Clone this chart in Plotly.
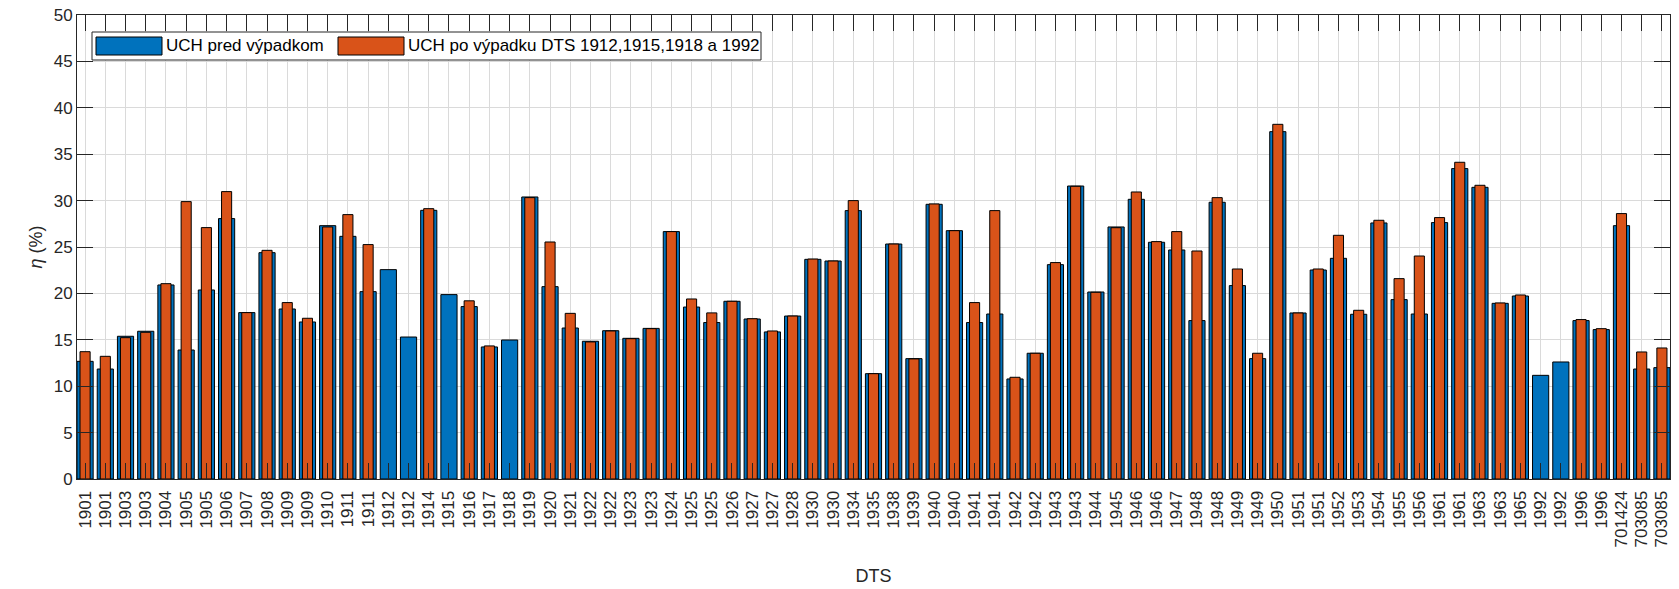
import plotly.graph_objects as go

labels = ["1901","1901","1903","1903","1904","1905","1905","1906","1907","1908",
          "1909","1909","1910","1911","1911","1912","1912","1914","1915","1916",
          "1917","1918","1919","1920","1921","1922","1922","1923","1923","1924",
          "1925","1925","1926","1927","1927","1928","1930","1930","1934","1935",
          "1938","1939","1940","1940","1941","1941","1942","1942","1943","1943",
          "1944","1945","1946","1946","1947","1948","1948","1949","1949","1950",
          "1951","1951","1952","1953","1954","1955","1956","1961","1961","1963",
          "1963","1965","1992","1992","1996","1996","701424","703085","703085"]

uch_pred = [12.68, 11.85, 15.38, 15.92, 20.91, 13.90, 20.37, 28.06, 17.93, 24.39,
            18.32, 16.92, 27.30, 26.15, 20.19, 22.56, 15.30, 28.95, 19.87, 18.58,
            14.23, 14.98, 30.39, 20.73, 16.27, 14.84, 15.98, 15.16, 16.23, 26.66,
            18.53, 16.86, 19.15, 17.24, 15.85, 17.56, 23.67, 23.49, 28.92, 11.35,
            25.32, 12.97, 29.60, 26.76, 16.86, 17.78, 10.78, 13.55, 23.10, 31.57,
            20.15, 27.16, 30.14, 25.51, 24.68, 17.07, 29.82, 20.84, 12.97, 37.43,
            17.89, 22.52, 23.78, 17.75, 27.59, 19.33, 17.78, 27.63, 33.45, 31.43,
            18.93, 19.72, 11.17, 12.61, 17.07, 16.10, 27.30, 11.85, 12.00]

uch_po = [13.72, 13.22, 15.23, 15.81, 21.05, 29.89, 27.09, 30.97, 17.93, 24.64,
          19.01, 17.32, 27.16, 28.49, 25.26, None, None, 29.13, None, 19.20,
          14.34, None, 30.32, 25.54, 17.85, 14.77, 15.95, 15.12, 16.20, 26.66,
          19.40, 17.90, 19.15, 17.27, 15.95, 17.56, 23.70, 23.49, 30.00, 11.35,
          25.32, 12.94, 29.64, 26.76, 19.01, 28.92, 10.96, 13.55, 23.32, 31.54,
          20.12, 27.08, 30.93, 25.58, 26.66, 24.57, 30.32, 22.63, 13.55, 38.22,
          17.89, 22.63, 26.26, 18.18, 27.88, 21.59, 24.03, 28.17, 34.13, 31.65,
          18.97, 19.83, None, None, 17.18, 16.20, 28.60, 13.69, 14.12]

series_names = ["UCH pred výpadkom", "UCH po výpadku DTS 1912,1915,1918 a 1992"]

x = list(range(len(labels)))

BLUE = "#0072BD"
ORANGE = "#D95319"
AX = "#262626"
GRID = "#dadada"
FONT = "Liberation Sans, Arial, Helvetica, sans-serif"

fig = go.Figure()
fig.add_trace(go.Bar(x=x, y=uch_pred, width=0.8, name=series_names[0],
                     marker=dict(color=BLUE, line=dict(color="#000000", width=1))))
fig.add_trace(go.Bar(x=x, y=uch_po, width=0.5, name=series_names[1],
                     marker=dict(color=ORANGE, line=dict(color="#000000", width=1))))

# pixel -> paper coordinate helpers (plot area: x 77..1670, y 15..479)
PX0, PX1, PY0, PY1 = 77.0, 1670.0, 15.0, 479.0
def px(v):
    return (v - PX0) / (PX1 - PX0)
def py(v):
    return (PY1 - v) / (PY1 - PY0)

# legend box with wide swatches (MATLAB style)
shapes = [
    dict(type="rect", xref="paper", yref="paper", x0=px(92), x1=px(761), y0=py(60), y1=py(32),
         fillcolor="white", line=dict(color=AX, width=1), layer="above"),
    dict(type="rect", xref="paper", yref="paper", x0=px(96), x1=px(162), y0=py(55), y1=py(37),
         fillcolor=BLUE, line=dict(color="#000000", width=1), layer="above"),
    dict(type="rect", xref="paper", yref="paper", x0=px(338), x1=px(404), y0=py(55), y1=py(37),
         fillcolor=ORANGE, line=dict(color="#000000", width=1), layer="above"),
]
annotations = [
    dict(xref="paper", yref="paper", x=px(164), y=py(46), xanchor="left", yanchor="middle",
         text=series_names[0], showarrow=False, font=dict(size=17, color="#000000")),
    dict(xref="paper", yref="paper", x=px(406), y=py(46), xanchor="left", yanchor="middle",
         text=series_names[1], showarrow=False, font=dict(size=17, color="#000000")),
]

fig.update_layout(
    width=1679, height=589,
    barmode="overlay",
    plot_bgcolor="white", paper_bgcolor="white",
    margin=dict(l=77, r=9, t=15, b=110, autoexpand=False),
    font=dict(family=FONT, size=17, color=AX),
    showlegend=False,
    hovermode=False,
    shapes=shapes,
    annotations=annotations,
    xaxis=dict(
        range=[-0.4, 78.4], tickmode="array", tickvals=x, ticktext=labels,
        tickangle=-90, showgrid=True, gridcolor=GRID, gridwidth=1,
        ticks="inside", ticklen=16, tickcolor=AX, tickwidth=1,
        showline=True, linecolor=AX, linewidth=1, mirror="ticks",
        zeroline=False, layer="above traces", automargin=False,
        tickfont=dict(size=17, color=AX), ticklabelstandoff=4,
        ticklabeloverflow="allow",
        title=dict(text="DTS", font=dict(size=18, color=AX), standoff=22),
    ),
    yaxis=dict(
        range=[0, 50], dtick=5, tick0=0, showgrid=True, gridcolor=GRID, gridwidth=1,
        ticks="inside", ticklen=16, tickcolor=AX, tickwidth=1,
        showline=True, linecolor=AX, linewidth=1, mirror="ticks",
        zeroline=False, layer="above traces", automargin=False,
        tickfont=dict(size=17, color=AX), ticklabelstandoff=0,
        ticklabeloverflow="allow",
        title=dict(text="<i>η</i> (%)", font=dict(size=18, color=AX), standoff=6),
    ),
)

fig.write_html("out.html", config={"displayModeBar": False},
               post_script="document.body.style.margin='0px';")
